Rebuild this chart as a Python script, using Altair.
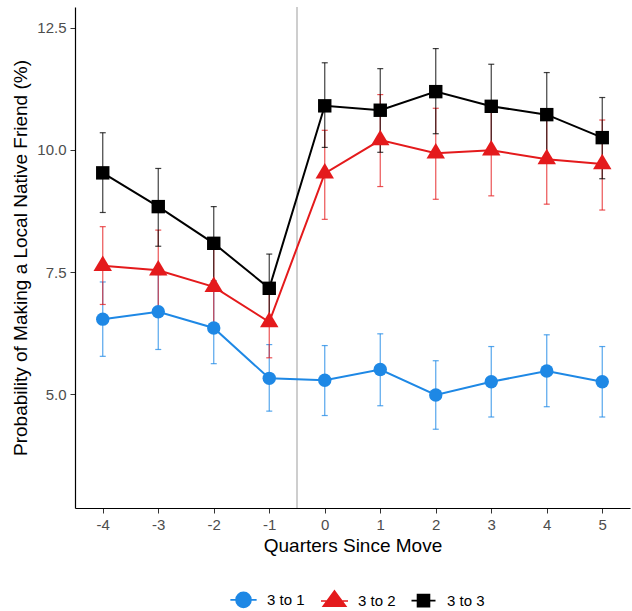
import altair as alt
import pandas as pd

# Quarters relative to the move, and the three move types
quarters = [-4, -3, -2, -1, 0, 1, 2, 3, 4, 5]
series_names = ["3 to 1", "3 to 2", "3 to 3"]
series_colors = ["#1E88E5", "#E41A1C", "#000000"]

# Estimated probability (%) with lower / upper confidence bounds
est_3to1 = [6.54, 6.69, 6.36, 5.33, 5.29, 5.51, 4.99, 5.26, 5.48, 5.26]
lo_3to1 = [5.78, 5.92, 5.63, 4.66, 4.57, 4.77, 4.29, 4.54, 4.75, 4.54]
hi_3to1 = [7.30, 7.45, 7.13, 6.02, 6.00, 6.24, 5.69, 5.98, 6.22, 5.98]

est_3to2 = [7.63, 7.54, 7.20, 6.48, 9.52, 10.20, 9.93, 9.99, 9.81, 9.71]
lo_3to2 = [6.84, 6.76, 6.43, 5.75, 8.58, 9.25, 8.99, 9.06, 8.89, 8.77]
hi_3to2 = [8.43, 8.36, 7.97, 7.21, 10.40, 11.13, 10.85, 10.92, 10.74, 10.61]

est_3to3 = [9.53, 8.84, 8.09, 7.17, 10.90, 10.81, 11.19, 10.89, 10.72, 10.25]
lo_3to3 = [8.72, 8.03, 7.32, 6.45, 10.05, 9.95, 10.33, 10.03, 9.87, 9.41]
hi_3to3 = [10.35, 9.62, 8.84, 7.87, 11.78, 11.66, 12.07, 11.75, 11.58, 11.07]

y_ticks = [5.0, 7.5, 10.0, 12.5]
move_boundary = [-0.5]

# Long table built from the arrays above
frames = []
for name, est, lo, hi in zip(
    series_names,
    [est_3to1, est_3to2, est_3to3],
    [lo_3to1, lo_3to2, lo_3to3],
    [hi_3to1, hi_3to2, hi_3to3],
):
    frames.append(pd.DataFrame({"quarter": quarters, "est": est, "lo": lo,
                                "hi": hi, "series": name}))
df = pd.concat(frames, ignore_index=True)

FONT = "Liberation Sans"

x_scale = alt.Scale(domain=[-4.5, 5.5], nice=False, zero=False)
y_scale = alt.Scale(domain=[2.68, 12.92], nice=False, zero=False)

x_enc = alt.X("quarter:Q", scale=x_scale,
              axis=alt.Axis(values=quarters, labelExpr="'' + datum.value",
                            title="Quarters Since Move",
                            labelPadding=4, titlePadding=4))
y_enc = alt.Y("est:Q", scale=y_scale,
              axis=alt.Axis(values=y_ticks, format=".1f",
                            title="Probability of Making a Local Native Friend (%)",
                            labelPadding=4, titlePadding=6))
lo_enc = alt.Y("lo:Q", scale=y_scale)
hi_enc = alt.Y("hi:Q", scale=y_scale)

base = alt.Chart(df)

vline = alt.Chart(pd.DataFrame({"x": move_boundary})).mark_rule(
    color="#BEBEBE", strokeWidth=1.5
).encode(x=alt.X("x:Q", scale=x_scale))

# Marker shapes (triangle anchored at its centroid)
tri_path = "M0,-1.12L1,0.56L-1,0.56Z"
marker_shapes = ["circle", tri_path, "square"]
marker_sizes = [180, 340, 180]

err_layers, line_layers, point_layers = [], [], []
for name, col, shape, size in zip(series_names, series_colors, marker_shapes, marker_sizes):
    sub = base.transform_filter(alt.datum.series == name)
    err_layers.append(sub.mark_rule(strokeWidth=1.2, opacity=0.75, color=col)
                      .encode(x=x_enc, y=lo_enc, y2="hi:Q"))
    err_layers.append(sub.mark_tick(orient="horizontal", size=6, thickness=1.2,
                                    opacity=0.75, color=col)
                      .encode(x=x_enc, y=lo_enc))
    err_layers.append(sub.mark_tick(orient="horizontal", size=6, thickness=1.2,
                                    opacity=0.75, color=col)
                      .encode(x=x_enc, y=hi_enc))
    line_layers.append(sub.mark_line(strokeWidth=2, color=col).encode(x=x_enc, y=y_enc))
    point_layers.append(sub.mark_point(filled=True, opacity=1, shape=shape, size=size,
                                       color=col).encode(x=x_enc, y=y_enc))

# Legend keys: marker drawn on a short line segment
key_paths = [
    "M-1,0A1,1,0,1,1,1,0A1,1,0,1,1,-1,0ZM-1.75,0H1.75",
    "M0,-1.35L1.5,0.7L-1.5,0.7ZM-1.8,0H1.8",
    "M-0.8,-0.8H0.8V0.8H-0.8ZM-1.6,0H1.6",
]
legend = alt.Legend(title=None, orient="none", direction="horizontal",
                    legendX=160, legendY=584, symbolSize=225, labelOffset=15,
                    columnPadding=12, symbolStrokeWidth=1.6, symbolOpacity=1,
                    padding=0)
legend_layer = base.mark_point(
    filled=True, size=225, strokeWidth=1.6, opacity=0
).encode(
    x=x_enc, y=y_enc,
    shape=alt.Shape("series:N", scale=alt.Scale(domain=series_names, range=key_paths),
                    legend=legend),
    fill=alt.Fill("series:N", scale=alt.Scale(domain=series_names, range=series_colors),
                  legend=legend),
    stroke=alt.Stroke("series:N", scale=alt.Scale(domain=series_names, range=series_colors),
                      legend=legend),
)

chart = alt.layer(
    vline, *err_layers, *line_layers, *point_layers, legend_layer
).properties(
    width=555, height=501,
    autosize=alt.AutoSizeParams(type="none"),
    padding={"left": 75, "top": 7, "right": 2, "bottom": 103},
    background="white",
).configure_view(stroke=None).configure_axis(
    grid=False, domainColor="black", domainWidth=1.2,
    tickColor="#333333", tickWidth=1, tickSize=5,
    labelFont=FONT, labelFontSize=15, labelColor="#4D4D4D",
    titleFont=FONT, titleFontSize=19, titleFontWeight="normal", titleColor="black",
).configure_legend(
    labelFont=FONT, labelFontSize=15, labelColor="black",
)

chart.save("out.html", embed_options={"renderer": "svg", "actions": False})
